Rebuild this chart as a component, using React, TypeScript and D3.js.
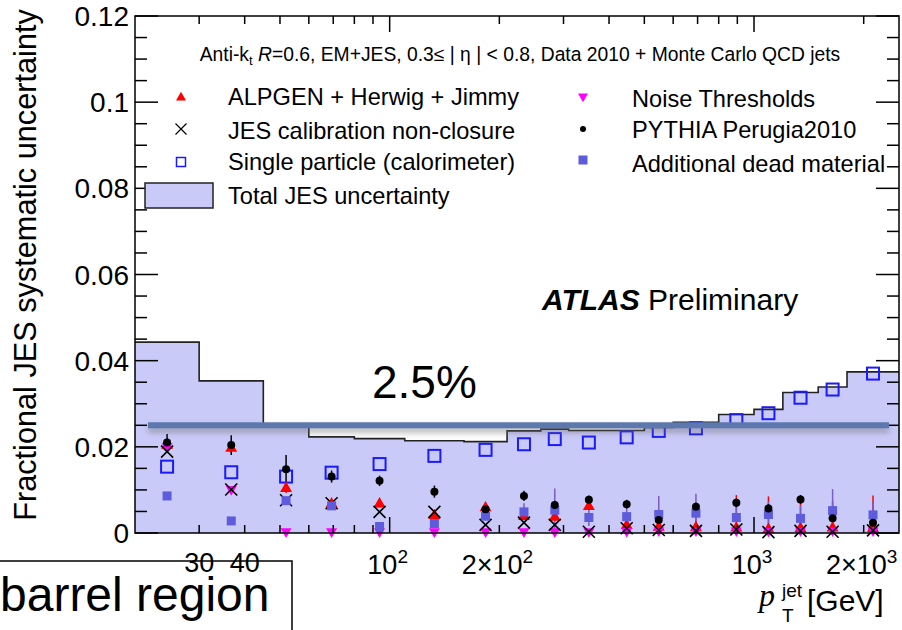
import React from "react";
import * as d3 from "d3";

// Jet pT bin edges [GeV]
const binEdges = [20, 30, 45, 60, 80, 110, 160, 210, 260, 310, 400, 500, 600, 800, 1000, 1200, 1500, 1800, 2500];

// Total JES uncertainty per bin
const totalJES = [0.0443, 0.0353, 0.0248, 0.0223, 0.0219, 0.0214, 0.0212, 0.0237, 0.0241, 0.0238, 0.0238, 0.0245, 0.0257, 0.0275, 0.0287, 0.0326, 0.0339, 0.0374];

// Individual contributions per bin
const alpgen = [0.0205, 0.0198, 0.0105, 0.0069, 0.0069, 0.0042, 0.006, 0.004, 0.0038, 0.0063, 0.0019, 0.0015, 0.0014, 0.0013, 0.001, 0.0012, 0.0013, 0.0012];
const alpgenErr = [0.0012, 0.0012, 0.0012, 0.001, 0.001, 0.001, 0.001, 0.001, 0.001, 0.001, 0.0015, 0.002, 0.002, 0.0075, 0.0075, 0.0075, 0.006, 0.0075];
const nonClosure = [0.0189, 0.0101, 0.0076, 0.0069, 0.0049, 0.0049, 0.0019, 0.0024, 0.0019, 0.0003, 0.0011, 0.0007, 0.0005, 0.0008, 0.0002, 0.0005, 0.0003, 0.0006];
const singleParticle = [0.0154, 0.0141, 0.0131, 0.014, 0.016, 0.0179, 0.0193, 0.0206, 0.0218, 0.021, 0.0222, 0.0237, 0.0243, 0.0262, 0.0278, 0.0314, 0.0333, 0.037];
const noise = [0.02, 0.01, 0.0002, 0.0002, 0.0002, 0.0002, 0.0002, 0.0002, 0.0002, 0.0002, 0.0003, 0.0004, 0.0004, 0.0004, 0.0003, 0.0004, 0.0004, 0.0004];
const pythia = [0.021, 0.0204, 0.0148, 0.0131, 0.0121, 0.0096, 0.0055, 0.0086, 0.0065, 0.0077, 0.0067, 0.003, 0.0061, 0.007, 0.0057, 0.0078, 0.0034, 0.0024];
const pythiaErr = [0.002, 0.0023, 0.0033, 0.0014, 0.0012, 0.0014, 0.001, 0.0012, 0.001, 0.001, 0.001, 0.001, 0.001, 0.001, 0.001, 0.001, 0.001, 0.001];
const deadMaterial = [0.0086, 0.0028, 0.0075, 0.0063, 0.0015, 0.0022, 0.0039, 0.0049, 0.0053, 0.0036, 0.0038, 0.0043, 0.0046, 0.0036, 0.0043, 0.0034, 0.0052, 0.0042];
const deadMaterialErr = [0.0005, 0.0005, 0.0005, 0.0005, 0.0005, 0.0005, 0.001, 0.002, 0.005, 0.002, 0.002, 0.0043, 0.0045, 0.003, 0.003, 0.003, 0.005, 0.003];

// Reference line level
const refLevel = 0.025;

// Axis ticks
const yTicks = d3.range(0, 0.12001, 0.005);
const yLabels = [0, 0.02, 0.04, 0.06, 0.08, 0.1, 0.12];
const xMajor = [100, 1000];
const xMinor = [30, 40, 50, 60, 70, 80, 90, 200, 300, 400, 500, 600, 700, 800, 900, 2000];
const xLabels: { v: number; base: string; exp?: string }[] = [
  { v: 30, base: "30" },
  { v: 40, base: "40" },
  { v: 100, base: "10", exp: "2" },
  { v: 200, base: "2\u00d710", exp: "2" },
  { v: 1000, base: "10", exp: "3" },
  { v: 2000, base: "2\u00d710", exp: "3" },
];

const SANS = "'Liberation Sans', Arial, Helvetica, sans-serif";
const FILL = "#cacaf9";
const C_RED = "#ff0000";
const C_MAG = "#ff00ff";
const C_BLUE = "#1a1aff";
const C_DEAD = "#5c5cdc";
const C_DEAD_ERR = "#7a5cc8";

const L = 135, R = 899, T = 16, B = 533;

function TriUp({ cx, cy, s = 12, fill }: { cx: number; cy: number; s?: number; fill: string }) {
  const h = s * 0.87;
  return <path d={`M${cx},${cy - h * 0.6}L${cx + s / 2},${cy + h * 0.4}L${cx - s / 2},${cy + h * 0.4}Z`} fill={fill} />;
}
function TriDown({ cx, cy, s = 11, fill }: { cx: number; cy: number; s?: number; fill: string }) {
  const h = s * 0.87;
  return <path d={`M${cx},${cy + h * 0.6}L${cx + s / 2},${cy - h * 0.4}L${cx - s / 2},${cy - h * 0.4}Z`} fill={fill} />;
}
function Cross({ cx, cy, s = 12, w = 1.6 }: { cx: number; cy: number; s?: number; w?: number }) {
  const h = s / 2;
  return (
    <path d={`M${cx - h},${cy - h}L${cx + h},${cy + h}M${cx - h},${cy + h}L${cx + h},${cy - h}`} stroke="#000" strokeWidth={w} fill="none" />
  );
}
function OpenSq({ cx, cy, s = 12, w = 2 }: { cx: number; cy: number; s?: number; w?: number }) {
  return <rect x={cx - s / 2} y={cy - s / 2} width={s} height={s} fill="none" stroke={C_BLUE} strokeWidth={w} />;
}
function FillSq({ cx, cy, s = 9 }: { cx: number; cy: number; s?: number }) {
  return <rect x={cx - s / 2} y={cy - s / 2} width={s} height={s} fill={C_DEAD} />;
}

export default function App() {
  const W = 902, H = 630;
  const x = d3.scaleLog().domain([20, 2500]).range([L, R]);
  const y = d3.scaleLinear().domain([0, 0.12]).range([B, T]);

  const centers = binEdges.slice(0, -1).map((lo, i) => Math.sqrt(lo * binEdges[i + 1]));

  const stepPts: [number, number][] = binEdges.map((e, i) => [e, totalJES[Math.min(i, totalJES.length - 1)]]);
  const area = d3
    .area<[number, number]>()
    .x((d) => x(d[0]))
    .y0(y(0))
    .y1((d) => y(d[1]))
    .curve(d3.curveStepAfter)(stepPts) as string;
  const line = d3
    .line<[number, number]>()
    .x((d) => x(d[0]))
    .y((d) => y(d[1]))
    .curve(d3.curveStepAfter)(stepPts) as string;

  const errBar = (i: number, v: number, e: number, color: string, w = 1.5) => (
    <line
      key={`e${color}${i}`}
      x1={x(centers[i])}
      x2={x(centers[i])}
      y1={y(Math.max(0, v - e))}
      y2={y(v + e)}
      stroke={color}
      strokeWidth={w}
    />
  );

  const refY = y(refLevel);

  return (
    <svg width={W} height={H} style={{ position: "absolute", left: 0, top: 0, background: "#fff" }} fontFamily={SANS}>
      <defs>
        <clipPath id="plotClip">
          <rect x={L} y={T} width={R - L} height={B - T} />
        </clipPath>
        <filter id="lineShadow" filterUnits="userSpaceOnUse" x={130} y={refY - 20} width={780} height={45}>
          <feDropShadow dx="0" dy="4" stdDeviation="3" floodColor="#666" floodOpacity="0.55" />
        </filter>
      </defs>

      {/* Total uncertainty band */}
      <g clipPath="url(#plotClip)">
        <path d={area} fill={FILL} />
        <path d={line} fill="none" stroke="#222" strokeWidth={1.6} />
      </g>

      {/* Error bars */}
      <g>
        {alpgen.map((v, i) => errBar(i, v, alpgenErr[i], C_RED))}
        {deadMaterial.map((v, i) => errBar(i, v, deadMaterialErr[i], C_DEAD_ERR))}
        {pythia.map((v, i) => errBar(i, v, pythiaErr[i], "#000"))}
      </g>

      {/* Markers */}
      <g>
        {singleParticle.map((v, i) => <OpenSq key={`sp${i}`} cx={x(centers[i])} cy={y(v)} />)}
        {alpgen.map((v, i) => <TriUp key={`al${i}`} cx={x(centers[i])} cy={y(v)} fill={C_RED} />)}
        {noise.map((v, i) => <TriDown key={`no${i}`} cx={x(centers[i])} cy={y(v)} fill={C_MAG} />)}
        {nonClosure.map((v, i) => <Cross key={`nc${i}`} cx={x(centers[i])} cy={y(v)} />)}
        {deadMaterial.map((v, i) => <FillSq key={`dm${i}`} cx={x(centers[i])} cy={y(v)} />)}
        {pythia.map((v, i) => <circle key={`py${i}`} cx={x(centers[i])} cy={y(v)} r={4} fill="#000" />)}
      </g>

      {/* Frame and ticks */}
      <g stroke="#000" strokeWidth={1.5}>
        <rect x={L} y={T} width={R - L} height={B - T} fill="none" />
        {yTicks.map((t, i) => {
          const major = Math.abs(t / 0.02 - Math.round(t / 0.02)) < 1e-6;
          const len = major ? 23 : 12;
          return (
            <g key={`yt${i}`}>
              <line x1={L} x2={L + len} y1={y(t)} y2={y(t)} />
              <line x1={R} x2={R - len} y1={y(t)} y2={y(t)} />
            </g>
          );
        })}
        {xMinor.map((t) => (
          <g key={`xm${t}`}>
            <line x1={x(t)} x2={x(t)} y1={B} y2={B - 8} />
            <line x1={x(t)} x2={x(t)} y1={T} y2={T + 8} />
          </g>
        ))}
        {xMajor.map((t) => (
          <g key={`xM${t}`}>
            <line x1={x(t)} x2={x(t)} y1={B} y2={B - 16} />
            <line x1={x(t)} x2={x(t)} y1={T} y2={T + 16} />
          </g>
        ))}
      </g>

      {/* Y tick labels */}
      <g fontSize={28} textAnchor="end">
        {yLabels.map((t) => (
          <text key={`yl${t}`} x={129} y={y(t)} dy="0.36em">
            {t === 0 ? "0" : String(t)}
          </text>
        ))}
      </g>

      {/* Region label box */}
      <rect x={-3} y={561} width={295} height={90} fill="none" stroke="#000" strokeWidth={1.5} />
      <text x={0} y={611} fontSize={48}>barrel region</text>

      {/* X tick labels */}
      <g fontSize={27} textAnchor="middle">
        {xLabels.map((l) => (
          <text key={`xl${l.v}`} x={x(l.v) + (l.exp ? -2 : 0)} y={l.exp ? 574 : 572}>
            {l.base}
            {l.exp && (
              <tspan fontSize={19} dy={-11}>
                {l.exp}
              </tspan>
            )}
          </text>
        ))}
      </g>

      {/* X axis title */}
      <text x={759} y={606} fontSize={32} fontFamily="'Liberation Serif', 'Times New Roman', serif" fontStyle="italic">p</text>
      <text x={782} y={597} fontSize={19}>jet</text>
      <text x={782} y={622} fontSize={19}>T</text>
      <text x={807} y={611} fontSize={30}>[GeV]</text>

      {/* Y axis title */}
      <text transform="translate(36,265) rotate(-90)" textAnchor="middle" fontSize={30.7}>
        Fractional JES systematic uncertainty
      </text>

      {/* Header */}
      <text x={520} y={61} fontSize={19.3} textAnchor="middle">
        Anti-k<tspan fontSize={13} dy={4}>t</tspan>
        <tspan dy={-4}> </tspan>
        <tspan fontStyle="italic">R</tspan>=0.6, EM+JES, 0.3{"\u2264"} | {"\u03b7"} | {"<"} 0.8, Data 2010 + Monte Carlo QCD jets
      </text>

      {/* Legend */}
      <g fontSize={23.6}>
        <TriUp cx={181} cy={97} s={10} fill={C_RED} />
        <text x={228} y={105}>ALPGEN + Herwig + Jimmy</text>
        <Cross cx={181} cy={129} s={11} w={1.2} />
        <text x={228} y={139}>JES calibration non-closure</text>
        <OpenSq cx={181} cy={162} s={9} w={1.5} />
        <text x={228} y={170}>Single particle (calorimeter)</text>
        <rect x={145} y={183} width={68} height={25} fill={FILL} stroke="#222" strokeWidth={1.5} />
        <text x={228} y={204}>Total JES uncertainty</text>

        <TriDown cx={583} cy={97} s={10} fill={C_MAG} />
        <text x={632} y={107}>Noise Thresholds</text>
        <circle cx={583} cy={129} r={3} fill="#000" />
        <text x={632} y={138}>PYTHIA Perugia2010</text>
        <FillSq cx={583} cy={160} s={9} />
        <text x={632} y={172}>Additional dead material</text>
      </g>

      {/* Experiment label */}
      <text x={542} y={310} fontSize={30}>
        <tspan fontWeight="bold" fontStyle="italic">ATLAS</tspan>
        <tspan> Preliminary</tspan>
      </text>

      {/* Reference line */}
      <rect x={148} y={refY - 3} width={741} height={6} fill="#5b78ad" filter="url(#lineShadow)" />
      <text x={372} y={398} fontSize={46}>2.5%</text>
    </svg>
  );
}
